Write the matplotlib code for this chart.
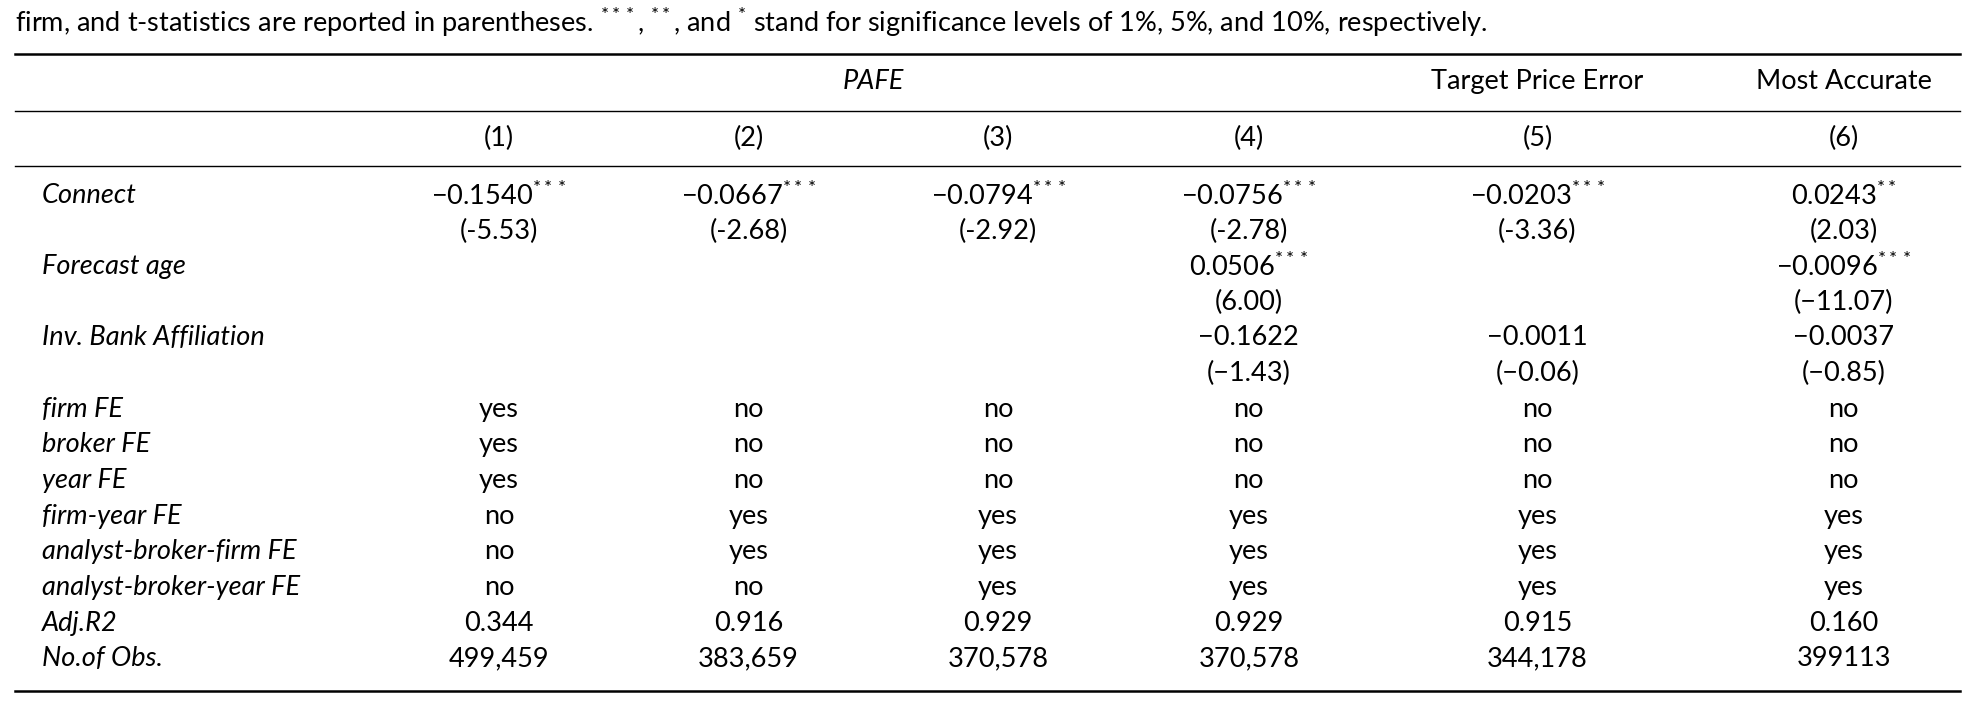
import matplotlib
matplotlib.use("Agg")
import matplotlib.pyplot as plt
from matplotlib.lines import Line2D

FONT = "Lato"
plt.rcParams['font.family'] = [FONT, 'DejaVu Sans']
plt.rcParams['mathtext.fontset'] = 'custom'
plt.rcParams['mathtext.rm'] = FONT
plt.rcParams['mathtext.it'] = FONT + ':italic'

caption = "firm, and t-statistics are reported in parentheses. $^{***}$, $^{**}$, and $^{*}$ stand for significance levels of 1%, 5%, and 10%, respectively."
col_labels = ["(1)", "(2)", "(3)", "(4)", "(5)", "(6)"]
row_labels = ["Connect", "", "Forecast age", "", "Inv. Bank Affiliation", "",
              "firm FE", "broker FE", "year FE", "firm-year FE",
              "analyst-broker-firm FE", "analyst-broker-year FE", "Adj.R2", "No.of Obs."]
cells = [
    ["−0.1540$^{***}$", "−0.0667$^{***}$", "−0.0794$^{***}$", "−0.0756$^{***}$", "−0.0203$^{***}$", "0.0243$^{**}$"],
    ["(-5.53)", "(-2.68)", "(-2.92)", "(-2.78)", "(-3.36)", "(2.03)"],
    ["", "", "", "0.0506$^{***}$", "", "−0.0096$^{***}$"],
    ["", "", "", "(6.00)", "", "(−11.07)"],
    ["", "", "", "−0.1622", "−0.0011", "−0.0037"],
    ["", "", "", "(−1.43)", "(−0.06)", "(−0.85)"],
    ["yes", "no", "no", "no", "no", "no"],
    ["yes", "no", "no", "no", "no", "no"],
    ["yes", "no", "no", "no", "no", "no"],
    ["no", "yes", "yes", "yes", "yes", "yes"],
    ["no", "yes", "yes", "yes", "yes", "yes"],
    ["no", "no", "yes", "yes", "yes", "yes"],
    ["0.344", "0.916", "0.929", "0.929", "0.915", "0.160"],
    ["499,459", "383,659", "370,578", "370,578", "344,178", "399113"],
]

W, H = 1568.0, 561.0
fig = plt.figure(figsize=(19.76, 7.07), dpi=100)
fx = lambda x: x / W
fy = lambda y: 1 - y / H
fs = 19.5

fig.text(fx(12), fy(18), caption, fontsize=fs, va="center", ha="left")

def rule(y, lw):
    fig.add_artist(Line2D([fx(12), fx(1555)], [fy(y), fy(y)], color="black", lw=lw))
rule(43, 1.8); rule(88, 1.0); rule(132, 1.0); rule(548, 1.8)

fig.text(fx(693), fy(65), "PAFE", style="italic", fontsize=fs, ha="center", va="center")
fig.text(fx(1220), fy(65), "Target Price Error", fontsize=fs, ha="center", va="center")
fig.text(fx(1463), fy(65), "Most Accurate", fontsize=fs, ha="center", va="center")

col_x = [396, 594, 792, 991, 1220, 1463]
for x, lab in zip(col_x, col_labels):
    fig.text(fx(x), fy(110), lab, fontsize=fs, ha="center", va="center")

y0, dy = 155, 28.3
for i, (lab, row) in enumerate(zip(row_labels, cells)):
    y = y0 + i * dy
    if lab:
        fig.text(fx(33), fy(y), lab, style="italic", fontsize=fs, ha="left", va="center")
    for x, c in zip(col_x, row):
        if c:
            fig.text(fx(x), fy(y), c, fontsize=fs, ha="center", va="center")

fig.savefig("out.png", dpi=100, facecolor="white")
